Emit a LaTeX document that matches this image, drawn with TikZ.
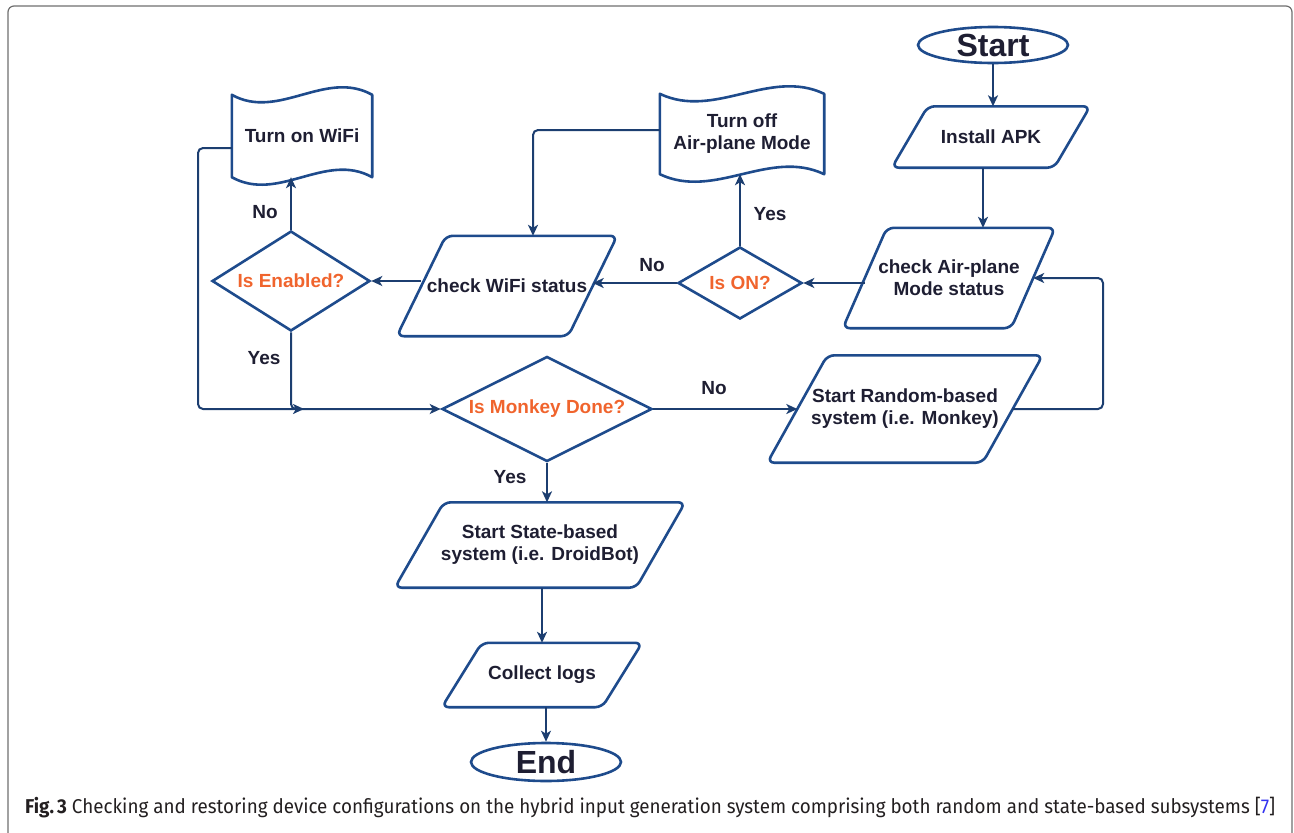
\documentclass[tikz,border=0pt]{standalone}
\usepackage{fontspec}
\setmainfont{Liberation Sans}
\newfontfamily\capfont{Fira Sans}
\usetikzlibrary{shapes.geometric,arrows.meta,calc}
\definecolor{edgeblue}{RGB}{30,75,140}
\definecolor{lineblue}{RGB}{28,62,112}
\definecolor{txt}{RGB}{30,30,50}
\definecolor{orng}{RGB}{240,100,45}
\definecolor{framegray}{RGB}{110,110,110}
\definecolor{refblue}{RGB}{50,50,240}
\definecolor{captxt}{RGB}{35,31,32}
\newcommand\paraline[2]{\draw[paraout] ($(#1.south west)+({-0.5*#2},0)$) -- ($(#1.north west)+({0.5*#2},0)$) -- ($(#1.north east)+({0.5*#2},0)$) -- ($(#1.south east)+({-0.5*#2},0)$) -- cycle;}
\newcommand\wavedoc[2]{\draw[docout] (#1.north west) .. controls ($(#1.north west)+({#2/3},26)$) and ($(#1.north east)+({-#2/3},-26)$) .. (#1.north east) -- (#1.south east) .. controls ($(#1.south east)+({-#2/3},-26)$) and ($(#1.south west)+({#2/3},26)$) .. (#1.south west) -- cycle;}
\begin{document}
\begin{tikzpicture}[x=1pt,y=-1pt,
  tbox/.style={text=txt, font=\fontsize{19}{22}\selectfont\bfseries, align=center, inner sep=0pt},
  box/.style={tbox, draw=edgeblue, line width=2.6pt},
  para/.style={tbox, rectangle},
  docbox/.style={tbox, rectangle},
  paraout/.style={draw=edgeblue, line width=2.6pt, rounded corners=7pt, line join=round},
  docout/.style={draw=edgeblue, line width=2.6pt, line join=round},
  dec/.style={box, diamond, aspect=2, text=orng},
  term/.style={box, ellipse, font=\fontsize{32}{36}\selectfont\bfseries},
  lbl/.style={text=txt, font=\fontsize{19}{22}\selectfont\bfseries, inner sep=0pt},
  arr/.style={draw=lineblue, line width=2pt, rounded corners=5pt, -{Stealth[length=11pt,width=10pt,inset=3pt]}}
]
\useasboundingbox (0,0) rectangle (1294,833);
\clip (0,0) rectangle (1294,833);
\draw[framegray, line width=1.2pt, rounded corners=6pt] (8,6) rectangle (1292,870);

% nodes
\node[term, minimum width=150pt, minimum height=36pt] (start) at (993,45) {Start};
\node[para, minimum width=162pt, minimum height=61pt] (apk) at (991,137) {Install APK};
\node[para, minimum width=168pt, minimum height=100pt] (air) at (949,278) {check Air-plane\\Mode status};
\node[dec, minimum width=124pt, minimum height=72pt] (ison) at (740,283) {Is ON?};
\node[docbox, minimum width=164pt, minimum height=80pt] (turnoff) at (742,134) {Turn off\\Air-plane Mode};
\node[para, minimum width=171pt, minimum height=100pt] (wifi) at (507,286) {check WiFi status};
\node[dec, minimum width=158pt, minimum height=100pt] (isen) at (291,281) {Is Enabled?};
\node[docbox, minimum width=140pt, minimum height=82pt] (turnon) at (302,136) {Turn on WiFi};
\node[dec, minimum width=210pt, minimum height=105pt] (monkey) at (547,409) {Is Monkey Done?};
\node[para, minimum width=215pt, minimum height=107pt] (random) at (905,409) {Start Random-based\\system (i.e. Monkey)};
\node[para, minimum width=241pt, minimum height=85pt] (state) at (540,545) {Start State-based\\system (i.e. DroidBot)};
\node[para, minimum width=160pt, minimum height=64pt] (logs) at (542,675) {Collect logs};
\node[term, minimum width=150pt, minimum height=38pt] (end) at (546,762) {End};

% outlines of parallelograms and documents
\paraline{apk}{36}
\paraline{air}{44}
\paraline{wifi}{49}
\paraline{random}{60}
\paraline{state}{49}
\paraline{logs}{40}
\wavedoc{turnoff}{164}
\wavedoc{turnon}{140}

% labels
\node[lbl] (l1) at (652,265) {No};
\node[lbl] (l2) at (770,214) {Yes};
\node[lbl] (l3) at (265,212) {No};
\node[lbl] (l4) at (264,358) {Yes};
\node[lbl] (l5) at (714,388) {No};
\node[lbl] (l6) at (510,477) {Yes};

% helper coordinates
\coordinate (lp) at (198,409);
\coordinate (mg) at (304,409);
\coordinate (rp) at (1103,409);

% connectors
\draw[arr] (start.south) -- (start.south |- apk.north);
\draw[arr] ([xshift=-8pt]apk.south) -- ([xshift=-8pt]apk.south |- air.north);
\draw[arr] (air.west |- ison.east) -- (ison.east);
\draw[arr] (ison.north) -- (ison.north |- turnoff.south);
\draw[arr] ($(turnoff.west)+(0,-4)$) -| ($(wifi.north)+(26,0)$);
\draw[arr] (ison.west) -- (ison.west -| wifi.east);
\draw[arr] (wifi.west |- isen.east) -- (isen.east);
\draw[arr] (isen.north) -- (isen.north |- turnon.south);
\draw[arr] ($(turnon.west)+(0,12)$) -| (lp) -- (monkey.west);
\draw[arr] (isen.south) |- (mg);
\draw[arr] (monkey.east) -- (monkey.east -| random.west);
\draw[arr] (random.east) -- (rp) |- (air.east);
\draw[arr] (monkey.south) -- (monkey.south |- state.north);
\draw[arr] (logs.north |- state.south) -- (logs.north);
\draw[arr] (end.north |- logs.south) -- (end.north);

% caption
\node[anchor=base west, inner sep=0pt, text=captxt] (cap) at (25,813) {\resizebox{1250pt}{\height}{\capfont\fontsize{20}{24}\selectfont\textbf{Fig.\,3} Checking and restoring device configurations on the hybrid input generation system comprising both random and state-based subsystems [{\color{refblue}7}]}};
\end{tikzpicture}
\end{document}
